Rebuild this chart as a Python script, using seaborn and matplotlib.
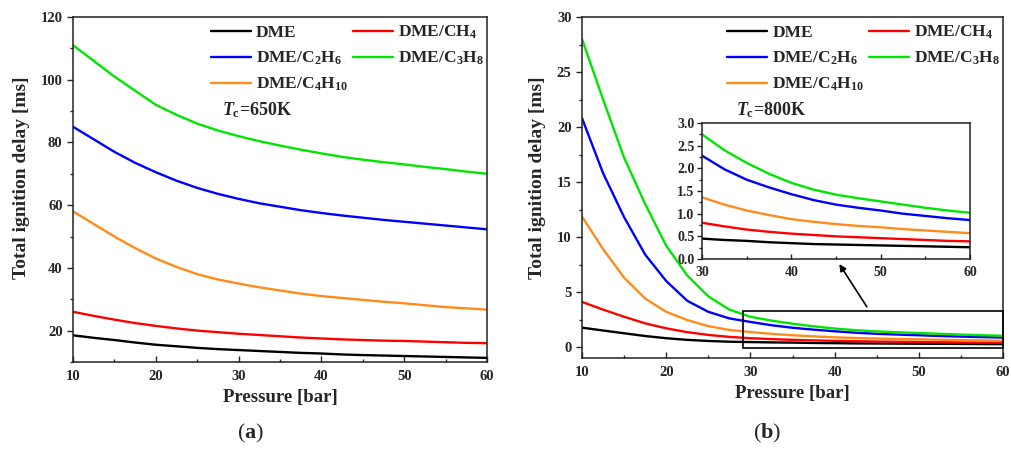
#%% Total ignition delay vs pressure: DME and DME/alkane blends %%#
import matplotlib.pyplot as plt
import matplotlib.patches as mpatches
from matplotlib.ticker import MultipleLocator, FormatStrFormatter
import seaborn as sns
import pandas as pd
import numpy as np

#---- Data ----#
pressure = [10, 12.5, 15, 17.5, 20, 22.5, 25, 27.5, 30, 32.5, 35, 37.5, 40,
            42.5, 45, 47.5, 50, 52.5, 55, 57.5, 60]

# Tc = 650 K
a_dme = [18.5, 17.7, 17, 16.2, 15.5, 15, 14.5, 14.1, 13.8, 13.5, 13.2, 12.9, 12.7,
         12.4, 12.2, 12.05, 11.9, 11.75, 11.6, 11.45, 11.3]
a_ch4 = [26, 24.7, 23.5, 22.4, 21.5, 20.7, 20, 19.5, 19, 18.6, 18.2, 17.8, 17.5,
         17.2, 17, 16.8, 16.7, 16.5, 16.3, 16.1, 16]
a_c2h6 = [85, 81, 77, 73.5, 70.5, 67.8, 65.5, 63.6, 62, 60.6, 59.5, 58.4, 57.5,
          56.7, 56, 55.3, 54.7, 54.1, 53.5, 52.9, 52.3]
a_c3h8 = [111, 106, 101, 96.5, 92, 88.8, 86, 83.8, 82, 80.4, 79, 77.7, 76.5,
          75.4, 74.5, 73.7, 73, 72.2, 71.5, 70.7, 70]
a_c4h10 = [58, 54, 50, 46.3, 43, 40.3, 38, 36.3, 35, 33.8, 32.8, 31.8, 31,
           30.4, 29.8, 29.2, 28.7, 28.1, 27.5, 27.1, 26.7]

# Tc = 800 K
b_dme = [1.76, 1.5, 1.25, 1.0, 0.8, 0.65, 0.55, 0.48, 0.45, 0.42, 0.4, 0.37, 0.35,
         0.33, 0.32, 0.31, 0.3, 0.29, 0.28, 0.27, 0.26]
b_ch4 = [4.1, 3.4, 2.75, 2.15, 1.7, 1.35, 1.1, 0.92, 0.8, 0.72, 0.65, 0.6, 0.56,
         0.53, 0.5, 0.48, 0.46, 0.44, 0.42, 0.4, 0.39]
b_c2h6 = [20.8, 15.8, 11.8, 8.4, 6.0, 4.2, 3.2, 2.6, 2.28, 1.98, 1.75, 1.58, 1.43,
          1.3, 1.2, 1.13, 1.07, 1.0, 0.95, 0.9, 0.86]
b_c3h8 = [28, 22.5, 17.2, 13.0, 9.2, 6.5, 4.6, 3.4, 2.75, 2.4, 2.12, 1.88, 1.68,
          1.53, 1.42, 1.34, 1.27, 1.2, 1.13, 1.07, 1.02]
b_c4h10 = [11.85, 8.9, 6.3, 4.4, 3.2, 2.45, 1.9, 1.55, 1.36, 1.2, 1.07, 0.97, 0.88,
           0.82, 0.77, 0.73, 0.7, 0.66, 0.63, 0.6, 0.57]

names = ['DME', 'DME/CH$_\\mathbf{4}$', 'DME/C$_\\mathbf{2}$H$_\\mathbf{6}$',
         'DME/C$_\\mathbf{3}$H$_\\mathbf{8}$', 'DME/C$_\\mathbf{4}$H$_\\mathbf{10}$']
colors = ['#000000', '#ff0000', '#0000ff', '#00e600', '#ff8c1a']
pal = dict(zip(names, colors))

def to_long(series):
    rows = []
    for nm, vals in zip(names, series):
        for p, v in zip(pressure, vals):
            rows.append((p, v, nm))
    return pd.DataFrame(rows, columns=['Pressure', 'Delay', 'Fuel'])

dfa = to_long([a_dme, a_ch4, a_c2h6, a_c3h8, a_c4h10])
dfb = to_long([b_dme, b_ch4, b_c2h6, b_c3h8, b_c4h10])

#---- Style ----#
sns.set_theme(style='ticks')
plt.rcParams['font.family'] = ['Liberation Serif', 'DejaVu Serif']
plt.rcParams['font.weight'] = 'bold'
plt.rcParams['axes.labelweight'] = 'bold'
plt.rcParams['mathtext.fontset'] = 'custom'
plt.rcParams['mathtext.rm'] = 'Liberation Serif:bold'
plt.rcParams['mathtext.bf'] = 'Liberation Serif:bold'
plt.rcParams['mathtext.it'] = 'Liberation Serif:bold:italic'
plt.rcParams['axes.edgecolor'] = '#222222'
plt.rcParams['axes.linewidth'] = 1.1

fig = plt.figure(figsize=(10.11, 4.5), dpi=100)
ax1 = fig.add_axes([0.0722, 0.1956, 0.4095, 0.7667])
ax2 = fig.add_axes([0.5757, 0.2044, 0.4164, 0.7578])
axin = fig.add_axes([0.6944, 0.4244, 0.2651, 0.3022])

lw = 1.7
order = [0, 2, 4, 1, 3]

def style_axis(ax, yl, ymaj, ymin, fs=10.5):
    ax.set_xlim(10, 60)
    ax.set_ylim(yl)
    ax.xaxis.set_major_locator(MultipleLocator(10))
    ax.xaxis.set_minor_locator(MultipleLocator(5))
    ax.yaxis.set_major_locator(MultipleLocator(ymaj))
    ax.yaxis.set_minor_locator(MultipleLocator(ymin))
    ax.tick_params(axis='x', which='both', direction='in', labelsize=fs, pad=6)
    ax.tick_params(axis='y', which='both', direction='out', labelsize=fs)
    ax.tick_params(which='major', length=4, width=1)
    ax.tick_params(which='minor', length=2.5, width=1)
    ax.set_xlabel('Pressure [bar]', fontsize=13.5, labelpad=4)
    ax.set_ylabel('Total ignition delay [ms]', fontsize=14)

def add_legend(ax):
    h, l = ax.get_legend_handles_labels()
    ax.legend([h[i] for i in order], [l[i] for i in order], ncol=2, loc='upper right',
              bbox_to_anchor=(1.01, 1.0), frameon=False, fontsize=12.5, handlelength=2.3,
              handletextpad=0.3, columnspacing=0.3, labelspacing=0.5, borderaxespad=0.0)

#---- Panel (a): Tc = 650 K ----#
sns.lineplot(data=dfa, x='Pressure', y='Delay', hue='Fuel', palette=pal, lw=lw, ax=ax1)
style_axis(ax1, (10, 120), 20, 10)
ax1.yaxis.set_label_coords(-0.104, 0.533)
add_legend(ax1)
ax1.text(0.36, 0.715, r'$T_\mathrm{c}$=650K', transform=ax1.transAxes, fontsize=13)

#---- Panel (b): Tc = 800 K ----#
sns.lineplot(data=dfb, x='Pressure', y='Delay', hue='Fuel', palette=pal, lw=lw, ax=ax2)
style_axis(ax2, (-1, 30), 5, 2.5)
ax2.yaxis.set_label_coords(-0.086, 0.53)
add_legend(ax2)
ax2.text(0.365, 0.712, r'$T_\mathrm{c}$=800K', transform=ax2.transAxes, fontsize=13)
ax2.add_patch(mpatches.Rectangle((29.1, -0.1), 30.9, 3.4, fill=False, ec='black',
                                 lw=1.2, clip_on=False, zorder=5))

#---- Inset ----#
sns.lineplot(data=dfb[dfb['Pressure'] >= 30], x='Pressure', y='Delay', hue='Fuel',
             palette=pal, lw=lw, ax=axin, legend=False)
axin.set_xlim(30, 60)
axin.set_ylim(0, 3)
axin.xaxis.set_major_locator(MultipleLocator(10))
axin.xaxis.set_minor_locator(MultipleLocator(5))
axin.yaxis.set_major_locator(MultipleLocator(0.5))
axin.yaxis.set_minor_locator(MultipleLocator(0.25))
axin.yaxis.set_major_formatter(FormatStrFormatter('%.1f'))
axin.tick_params(axis='x', which='both', direction='in', labelsize=10, pad=5)
axin.tick_params(axis='y', which='both', direction='out', labelsize=10, pad=2)
axin.tick_params(which='major', length=3.5, width=1)
axin.tick_params(which='minor', length=2, width=1)
axin.set_xlabel('')
axin.set_ylabel('')

ax2.annotate('', xy=(45.2, -0.06), xycoords=axin.transData, xytext=(44.0, 3.45),
             textcoords='data',
             arrowprops=dict(arrowstyle='-|>', color='black', lw=1.2, mutation_scale=10))

#---- Captions ----#
fig.text(0.248, 0.025, r'($\mathbf{a}$)', ha='center', fontsize=16, weight='normal')
fig.text(0.759, 0.025, r'($\mathbf{b}$)', ha='center', fontsize=16, weight='normal')

fig.savefig('out.png', dpi=100)
